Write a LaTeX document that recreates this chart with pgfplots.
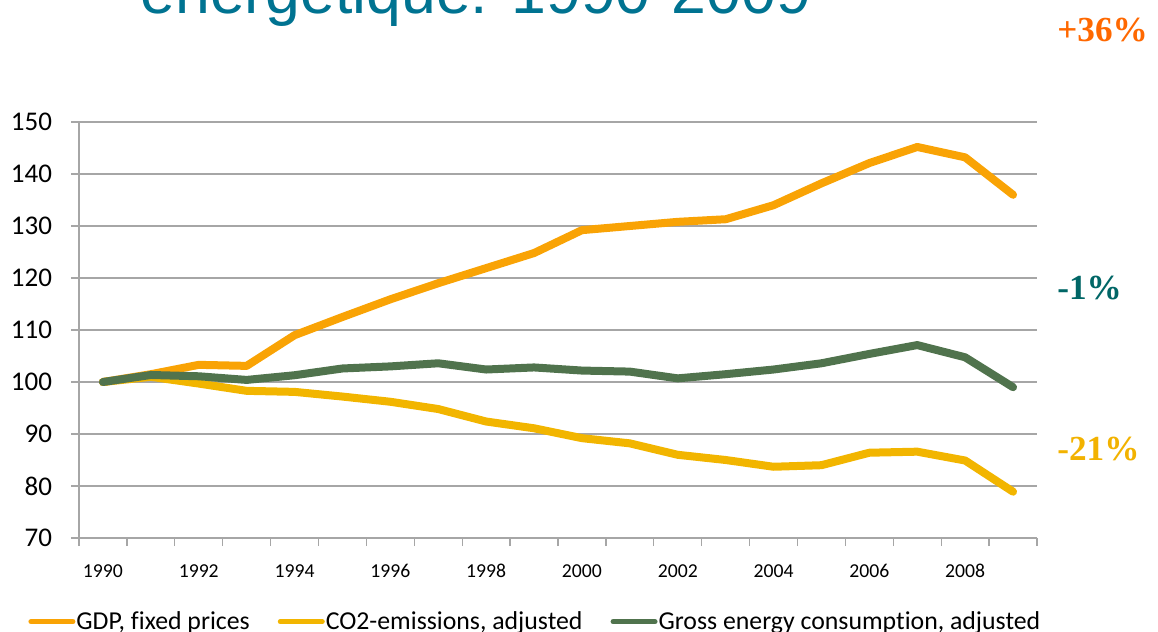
\documentclass[border=0pt]{standalone}
\usepackage{fontspec}
\setmainfont{Carlito}[Ligatures=NoCommon]
\newfontfamily\titlefont{Liberation Sans}
\newfontfamily\pctfont{Liberation Serif}
\usepackage{pgfplots}
\pgfplotsset{compat=1.18}

\definecolor{gdpcol}{RGB}{249,163,5}
\definecolor{co2col}{RGB}{242,181,0}
\definecolor{enercol}{RGB}{80,115,77}
\definecolor{gridgray}{RGB}{166,166,166}
\definecolor{titlecol}{RGB}{0,115,145}
\definecolor{pctorange}{RGB}{255,104,0}
\definecolor{pctteal}{RGB}{0,102,102}
\definecolor{pctgold}{RGB}{242,178,0}

\begin{document}
\begin{tikzpicture}
\useasboundingbox (0,0) rectangle (579bp,316bp);
\clip (0,0) rectangle (579bp,316bp);

\begin{axis}[
  at={(39.5bp,47bp)}, anchor=south west,
  scale only axis, width=479bp, height=208bp,
  xmin=1989.5, xmax=2009.5, ymin=70, ymax=150,
  axis lines=left,
  axis line style={-, draw=gridgray, line width=0.65bp},
  ytick={70,80,...,150},
  ymajorgrids,
  grid style={draw=gridgray, line width=0.65bp},
  xtick={1989.5,1990.5,...,2009.5},
  xticklabels={},
  tick align=outside,
  major tick length=4bp,
  tick style={draw=gridgray, line width=0.65bp},
  extra x ticks={1990,1992,1994,1996,1998,2000,2002,2004,2006,2008},
  extra x tick labels={1990,1992,1994,1996,1998,2000,2002,2004,2006,2008},
  extra x tick style={major tick length=0pt,
    tick label style={font=\fontsize{9.85bp}{11bp}\selectfont, anchor=base, yshift=-19.5bp}},
  yticklabel style={font=\fontsize{13.5bp}{15bp}\selectfont, anchor=east, xshift=-6bp},
  /pgf/number format/assume math mode=true,
  legend columns=3,
  legend style={draw=none, fill=none, inner sep=0pt,
    at={(-0.0532,-0.2012)}, anchor=west,
    font=\fontsize{12.9bp}{14bp}\selectfont,
    nodes={inner xsep=0.5bp, inner ysep=0pt},
    /tikz/every even column/.append style={column sep=13.5bp}},
  legend image code/.code={
    \draw[#1, line width=2.5bp, line cap=round] (0bp,0bp) -- (21bp,0bp);
  },
  every axis plot/.append style={line width=4bp, line join=round, line cap=round, mark=none},
]
% GDP at fixed prices, index 1990 = 100
\addplot[gdpcol] coordinates {
  (1990,100.0) (1991,101.5) (1992,103.3) (1993,103.1) (1994,109.0)
  (1995,112.5) (1996,115.9) (1997,119.0) (1998,121.9) (1999,124.8)
  (2000,129.2) (2001,130.0) (2002,130.8) (2003,131.3) (2004,134.0)
  (2005,138.2) (2006,142.1) (2007,145.2) (2008,143.2) (2009,136.0)
};
\addlegendentry{GDP, fixed prices}
% CO2 emissions, adjusted
\addplot[co2col] coordinates {
  (1990,100.0) (1991,101.0) (1992,99.7) (1993,98.3) (1994,98.1)
  (1995,97.2) (1996,96.2) (1997,94.8) (1998,92.4) (1999,91.1)
  (2000,89.2) (2001,88.2) (2002,86.0) (2003,85.0) (2004,83.7)
  (2005,84.0) (2006,86.4) (2007,86.6) (2008,84.9) (2009,78.9)
};
\addlegendentry{CO2-emissions, adjusted}
% Gross energy consumption, adjusted
\addplot[enercol] coordinates {
  (1990,100.0) (1991,101.35) (1992,101.1) (1993,100.4) (1994,101.3)
  (1995,102.6) (1996,103.0) (1997,103.6) (1998,102.4) (1999,102.8)
  (2000,102.2) (2001,102.0) (2002,100.7) (2003,101.5) (2004,102.4)
  (2005,103.6) (2006,105.4) (2007,107.1) (2008,104.75) (2009,99.0)
};
\addlegendentry{Gross energy consumption, adjusted}
\end{axis}

% heading and change labels
\node[anchor=base west, inner sep=0pt, text=titlecol]
  at (70bp,309bp) {\titlefont\fontsize{31.3bp}{36bp}\selectfont énergétique: 1990-2009};
\node[anchor=base west, inner sep=0pt, text=pctorange]
  at (528.5bp,295bp) {\pctfont\bfseries\fontsize{17.6bp}{20bp}\selectfont +36\%};
\node[anchor=base west, inner sep=0pt, text=pctteal]
  at (528.5bp,166bp) {\pctfont\bfseries\fontsize{17.6bp}{20bp}\selectfont -1\%};
\node[anchor=base west, inner sep=0pt, text=pctgold]
  at (528.5bp,85.6bp) {\pctfont\bfseries\fontsize{17.6bp}{20bp}\selectfont -21\%};
\end{tikzpicture}
\end{document}
